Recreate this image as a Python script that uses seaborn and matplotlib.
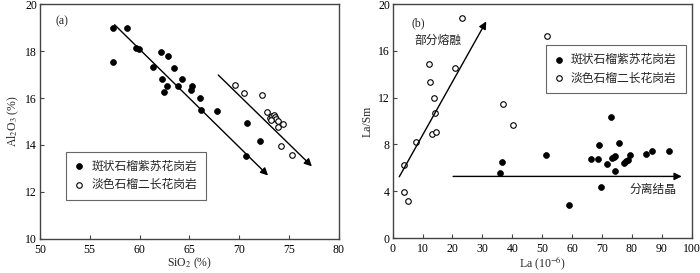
import pandas as pd
import matplotlib
matplotlib.use("Agg")
import matplotlib.pyplot as plt
import seaborn as sns

# ============================================================
# Data
# ============================================================

# (a) SiO2 vs Al2O3 -- porphyritic garnet charnockite (filled)
sio2_a = [57.35, 58.79, 57.35, 59.69, 59.96, 61.39, 62.13, 62.86, 62.26, 62.73,
          62.50, 63.46, 63.87, 64.30, 65.30, 65.17, 66.04, 66.17, 67.77, 70.82,
          72.05, 70.68]
al2o3_a = [18.98, 18.98, 17.53, 18.13, 18.10, 17.32, 17.94, 17.77, 16.79, 16.50,
           16.27, 17.26, 16.52, 16.79, 16.52, 16.33, 16.01, 15.50, 15.45, 14.94,
           14.18, 13.52]

# (a) light-coloured garnet two-feldspar granite (open)
sio2_b = [69.61, 70.48, 72.32, 72.79, 73.12, 73.32, 73.49, 73.59, 73.69, 73.20,
          73.92, 73.86, 74.39, 74.22, 75.26]
al2o3_b = [16.57, 16.21, 16.11, 15.39, 15.15, 15.22, 15.26, 15.19, 15.12, 15.08,
           15.03, 14.78, 14.88, 13.94, 13.56]

# (b) La vs La/Sm
la_a = [35.8, 36.6, 51.2, 58.9, 66.5, 68.6, 69.1, 69.6, 71.8, 73.2, 73.4, 74.2,
        74.4, 74.4, 75.6, 77.3, 78.0, 78.8, 79.3, 84.8, 86.9, 92.6]
lasm_a = [5.58, 6.52, 7.07, 2.79, 6.72, 6.72, 7.98, 4.33, 6.32, 10.37, 6.84, 6.92,
          7.04, 5.70, 8.09, 6.41, 6.55, 6.70, 7.07, 7.15, 7.46, 7.46]

la_b = [23.3, 51.6, 12.3, 20.7, 12.6, 13.9, 14.3, 13.0, 14.4, 37.0, 40.1, 7.8,
        3.8, 3.8, 5.0]
lasm_b = [18.80, 17.24, 14.87, 14.56, 13.30, 11.94, 10.68, 8.89, 9.03, 11.50,
          9.66, 8.21, 6.21, 3.93, 3.19]

rock_names = ["斑状石榴紫苏花岗岩", "淡色石榴二长花岗岩"]

# trend arrows (start, end) in data units
arrows_a = [((57.5, 19.12), (72.9, 12.70)), ((67.9, 16.98), (77.3, 13.09))]
arrows_b = [((2.2, 5.24), (31.3, 18.52)), ((20.2, 5.27), (96.7, 5.27))]

# ============================================================
# Style
# ============================================================
sns.set_style("ticks")
plt.rcParams['font.family'] = ['Liberation Serif', 'Noto Sans CJK SC', 'DejaVu Sans']
plt.rcParams['mathtext.fontset'] = 'stix'
plt.rcParams['font.size'] = 8.5
plt.rcParams['axes.edgecolor'] = '#444444'
plt.rcParams['axes.linewidth'] = 1.0

df_a = pd.concat([
    pd.DataFrame({'x': sio2_a, 'y': al2o3_a, 'rock': rock_names[0]}),
    pd.DataFrame({'x': sio2_b, 'y': al2o3_b, 'rock': rock_names[1]}),
])
df_b = pd.concat([
    pd.DataFrame({'x': la_a, 'y': lasm_a, 'rock': rock_names[0]}),
    pd.DataFrame({'x': la_b, 'y': lasm_b, 'rock': rock_names[1]}),
])

fig = plt.figure(figsize=(7, 2.73), dpi=100)
ax1 = fig.add_axes([0.057, 0.125, 0.427, 0.86])
ax2 = fig.add_axes([0.561, 0.128, 0.427, 0.857])


def draw_points(ax, df):
    filled = df[df['rock'] == rock_names[0]]
    hollow = df[df['rock'] == rock_names[1]]
    sns.scatterplot(data=filled, x='x', y='y', ax=ax, s=18, color='black',
                    edgecolor='black', linewidth=0.5, label=rock_names[0], zorder=3)
    sns.scatterplot(data=hollow, x='x', y='y', ax=ax, s=16, facecolor='white',
                    edgecolor='black', linewidth=0.8, label=rock_names[1], zorder=3)


def draw_arrows(ax, arrows):
    for start, end in arrows:
        ax.annotate('', xy=end, xytext=start,
                    arrowprops=dict(arrowstyle='-|>', color='black', lw=1.0,
                                    mutation_scale=11, shrinkA=0, shrinkB=0))


def style_axes(ax):
    ax.tick_params(direction='in', length=3, width=0.8, colors='#444444',
                   labelcolor='black', labelsize=8.5, pad=2)
    ax.tick_params(axis='x', pad=3.5)
    for s in ax.spines.values():
        s.set_visible(True)


legend_kw = dict(fancybox=False, edgecolor='#666666', framealpha=1, fontsize=8.5,
                 handletextpad=0.6, borderpad=0.75, handlelength=0.8,
                 labelspacing=0.55, borderaxespad=0)

# (a)
draw_points(ax1, df_a)
draw_arrows(ax1, arrows_a)
ax1.set_xlim(50, 80)
ax1.set_ylim(10, 20)
ax1.set_xticks(range(50, 81, 5))
ax1.set_yticks(range(10, 21, 2))
ax1.set_xlabel(r'SiO$_\mathrm{2}$ (%)', fontsize=8.5, labelpad=0)
ax1.set_ylabel(r'Al$_\mathrm{2}$O$_\mathrm{3}$ (%)', fontsize=8.5, labelpad=3)
ax1.text(0.053, 0.915, '(a)', transform=ax1.transAxes, fontsize=8.5)
style_axes(ax1)
leg1 = ax1.legend(loc='lower left', bbox_to_anchor=(0.087, 0.166), **legend_kw)
leg1.get_frame().set_linewidth(0.8)

# (b)
draw_points(ax2, df_b)
draw_arrows(ax2, arrows_b)
ax2.set_xlim(0, 100)
ax2.set_ylim(0, 20)
ax2.set_xticks(range(0, 101, 10))
ax2.set_yticks(range(0, 21, 4))
ax2.set_xlabel(r'La (10$^{-6}$)', fontsize=8.5, labelpad=0)
ax2.set_ylabel('La/Sm', fontsize=8.5, labelpad=3)
ax2.text(0.063, 0.905, '(b)', transform=ax2.transAxes, fontsize=8.5)
ax2.text(7.3, 16.9, '部分熔融', fontsize=8.5, va='center', color='#222222')
ax2.text(95, 4.1, '分离结晶', fontsize=8.5, va='center', ha='right', color='#222222')
style_axes(ax2)
leg2 = ax2.legend(loc='upper right', bbox_to_anchor=(0.98, 0.825), **legend_kw)
leg2.get_frame().set_linewidth(0.8)

fig.savefig('out.png', dpi=100)
